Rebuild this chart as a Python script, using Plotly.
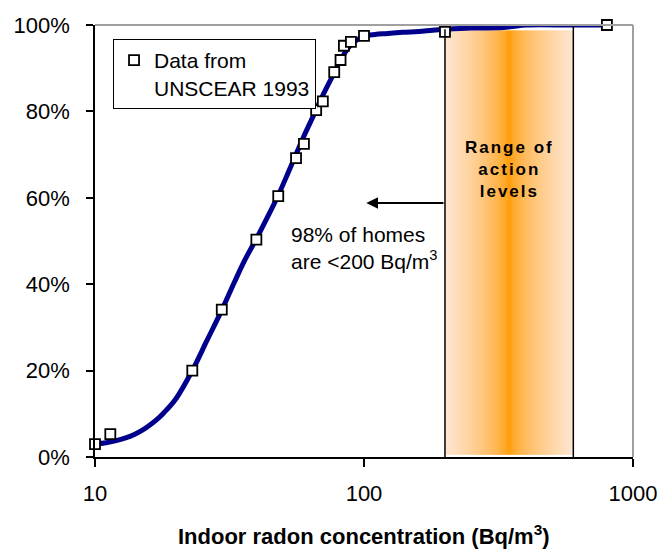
import math
import plotly.graph_objects as go

# ---- data ----
data_x = [10, 11.4, 23.0, 29.6, 39.8, 48.0, 55.9, 59.8, 66.4, 70.3, 77.5, 81.8, 84.2, 89.4, 100, 200, 800]
data_y = [3.0, 5.3, 20.0, 34.1, 50.3, 60.4, 69.2, 72.5, 80.3, 82.3, 89.1, 91.9, 95.2, 96.1, 97.5, 98.4, 100.0]

curve_x = [10, 11, 12, 13, 14, 15, 16, 17, 18, 20, 23, 26, 29.6, 33, 36, 39.8, 44, 48, 52, 56, 60,
           66, 70, 77, 82, 89, 95, 100, 110, 120, 140, 160, 180, 200, 250, 330, 360, 400, 600, 800]
curve_y = [3.0, 3.3, 3.8, 4.4, 5.2, 6.2, 7.4, 8.7, 10.2, 13.5, 20.0, 26.8, 34.0, 40.5, 45.5, 50.5, 55.8,
           60.6, 65.5, 70.2, 74.5, 80.0, 83.5, 88.6, 92.0, 95.3, 96.7, 97.4, 97.8, 98.0, 98.3, 98.5, 98.8,
           99.0, 99.3, 99.4, 99.7, 100.0, 100.0, 100.0]

y_ticks = [0, 20, 40, 60, 80, 100]
y_tick_labels = ["0%", "20%", "40%", "60%", "80%", "100%"]
x_ticks = [10, 100, 1000]
x_tick_labels = ["10", "100", "1000"]

action_low = 200
action_high = 600
arrow_from = 200
arrow_to = 102
arrow_level = 58.8

FONT = "Arial, 'Liberation Sans', sans-serif"

fig = go.Figure()

fig.add_trace(go.Scatter(
    x=curve_x, y=curve_y, mode="lines", line=dict(color="#00008C", width=5, shape="spline"),
    showlegend=False, hoverinfo="skip", cliponaxis=False))

fig.add_trace(go.Scatter(
    x=data_x, y=data_y, mode="markers", name="Data from<br>UNSCEAR 1993",
    marker=dict(symbol="square", size=10, color="white", line=dict(color="black", width=1.8)),
    cliponaxis=False))

shapes = []
# gradient band for range of action levels
N = 64
l0, l1 = math.log10(action_low), math.log10(action_high)
step = (l1 - l0) / N
orange = (255, 153, 0)
peach = (254, 230, 210)
for i in range(N):
    a = l0 + step * i
    b = min(l0 + step * (i + 1.6), l1)
    mid = (i + 0.5) / N
    t = abs(mid - 0.5) * 2
    f = t ** 0.6
    c = tuple(round(orange[k] + (peach[k] - orange[k]) * f) for k in range(3))
    shapes.append(dict(type="rect", xref="x", yref="y", x0=10 ** a, x1=10 ** b, y0=0.5, y1=98.7,
                       fillcolor="rgb(%d,%d,%d)" % c, line=dict(width=0), layer="below"))
shapes.append(dict(type="line", xref="x", yref="y", x0=action_low, x1=action_low, y0=0, y1=99,
                   line=dict(color="black", width=1.5)))
shapes.append(dict(type="line", xref="x", yref="y", x0=action_high, x1=action_high, y0=0, y1=100,
                   line=dict(color="black", width=1.5)))
# gray plot-area border (top and right)
shapes.append(dict(type="line", xref="x domain", yref="y domain", x0=0, x1=1, y0=1, y1=1,
                   line=dict(color="#A0A0A0", width=2)))
shapes.append(dict(type="line", xref="x domain", yref="y domain", x0=1, x1=1, y0=0, y1=1,
                   line=dict(color="#A0A0A0", width=2)))

annotations = [
    dict(x=math.log10(arrow_to), y=arrow_level, ax=math.log10(arrow_from), ay=arrow_level,
         xref="x", yref="y", axref="x", ayref="y", text="", showarrow=True,
         arrowhead=2, arrowsize=1.3, arrowwidth=1.8, arrowcolor="black", standoff=0),
    dict(x=math.log10(52.5), y=48.3, xref="x", yref="y", xanchor="left", yanchor="middle",
         align="left", showarrow=False,
         text="98% of homes<br>are &lt;200 Bq/m<sup>3</sup>",
         font=dict(family=FONT, size=21, color="black")),
    dict(x=(l0 + l1) / 2, y=66.6, xref="x", yref="y", xanchor="center", yanchor="middle",
         align="center", showarrow=False,
         text="<span style='letter-spacing:2px'><b>Range of<br>action<br>levels</b></span>",
         font=dict(family=FONT, size=17, color="black")),
    dict(x=0.5, y=-0.181, xref="paper", yref="paper", xanchor="center", yanchor="middle",
         showarrow=False,
         text="<b>Indoor radon concentration (Bq/m<sup>3</sup>)</b>",
         font=dict(family=FONT, size=22, color="black")),
]

fig.update_layout(
    width=663, height=553,
    margin=dict(l=95, r=30, t=25, b=96),
    paper_bgcolor="white", plot_bgcolor="white",
    font=dict(family=FONT, size=22, color="black"),
    shapes=shapes, annotations=annotations,
    legend=dict(x=0.0335, y=0.9676, xanchor="left", yanchor="top",
                bordercolor="black", borderwidth=1, bgcolor="white",
                valign="top", font=dict(family=FONT, size=21, color="black")),
    xaxis=dict(type="log", range=[1, 3], tickvals=x_ticks, ticktext=x_tick_labels,
               showgrid=False, zeroline=False, showline=True, linecolor="black", linewidth=1.5,
               ticks="outside", ticklen=8, tickcolor="black", tickwidth=1.5,
               ticklabelstandoff=8, automargin=False, tickfont=dict(size=22)),
    yaxis=dict(range=[0, 100], tickvals=y_ticks, ticktext=y_tick_labels,
               showgrid=False, zeroline=False, showline=True, linecolor="black", linewidth=1.5,
               ticks="outside", ticklen=7, tickcolor="black", tickwidth=1.5,
               ticklabelstandoff=12, automargin=False, tickfont=dict(size=22)),
)

fig.write_html("out.html", config={"displayModeBar": False},
               post_script="document.body.style.margin='0';")
